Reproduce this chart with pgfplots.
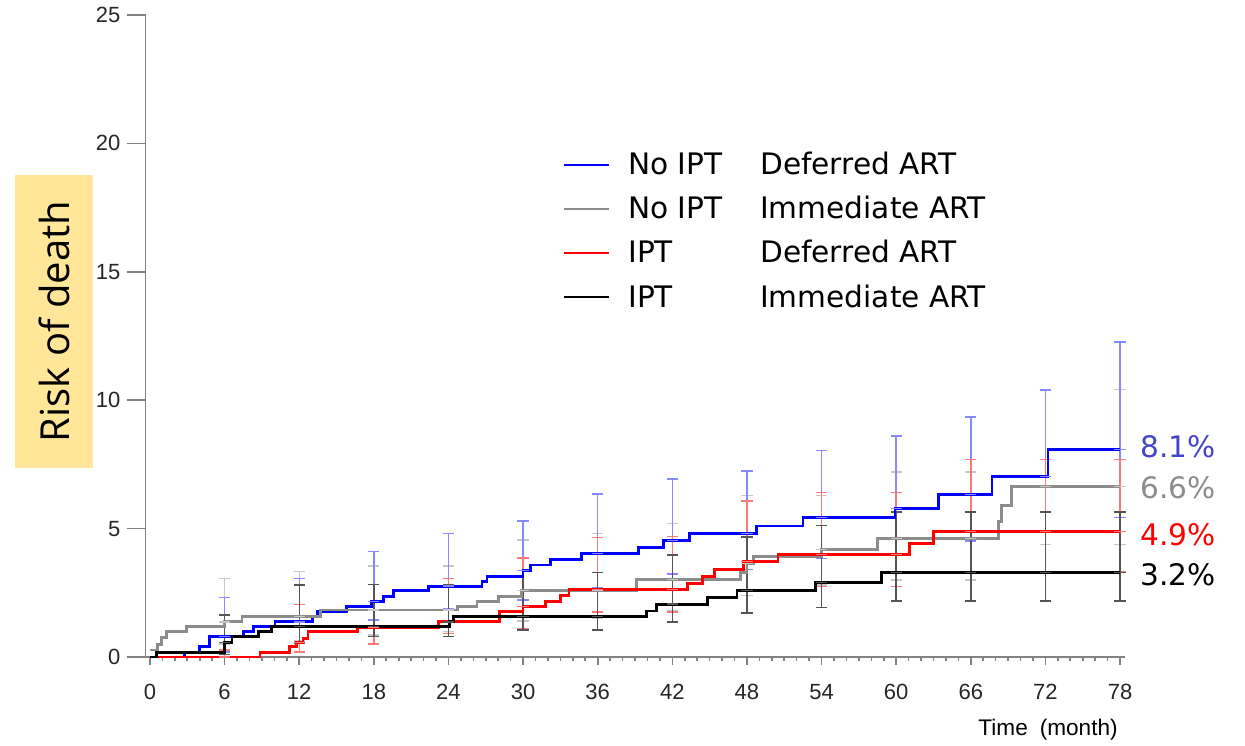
\documentclass[border=0pt]{standalone}
\usepackage{fontspec}
\usepackage{pgfplots}
\usepackage{pgfplotstable}
\pgfplotsset{compat=1.18}
\newfontfamily\arialf{Liberation Sans}
\newfontfamily\verdf{DejaVu Sans}
\newfontfamily\openf{Open Sans}
\definecolor{cblue}{RGB}{0,0,255}
\definecolor{cgray}{RGB}{140,140,140}
\definecolor{cred}{RGB}{255,0,0}
\definecolor{cblack}{RGB}{0,0,0}
\definecolor{eblue}{RGB}{135,135,255}
\definecolor{egray}{RGB}{200,200,200}
\definecolor{ered}{RGB}{255,120,120}
\definecolor{eblack}{RGB}{85,85,85}
\definecolor{axgray}{RGB}{130,130,130}
\definecolor{pblue}{RGB}{68,68,200}
\definecolor{ybox}{RGB}{255,230,153}

\pgfplotstableread{
x y up lo
6 0.79 2.31 0.20
12 1.37 3.06 0.60
18 2.15 4.10 1.44
24 2.76 4.81 1.89
30 3.38 5.30 2.22
36 4.03 6.34 2.70
42 4.53 6.93 3.23
48 4.81 7.25 3.41
54 5.43 8.05 3.84
60 5.78 8.60 4.00
66 6.33 9.35 4.51
72 7.02 10.40 4.90
78 8.08 12.27 5.43
}\errblue
\pgfplotstableread{
x y up lo
6 1.37 3.06 0.50
12 1.57 3.32 0.65
18 1.83 3.55 0.85
24 1.83 3.55 1.00
30 2.58 4.55 1.40
36 2.58 4.80 1.50
42 3.02 5.20 1.80
48 3.64 6.28 2.40
54 4.19 6.30 2.80
60 4.62 7.21 3.00
66 4.62 7.21 3.00
72 6.63 10.42 4.38
78 6.63 10.42 4.38
}\errgray
\pgfplotstableread{
x y up lo
6 0.00 0.27 0.00
12 0.56 2.05 0.20
18 1.15 2.83 0.50
24 1.37 3.06 0.92
30 1.96 3.86 1.10
36 2.63 4.66 1.76
42 2.63 4.70 1.76
48 3.71 6.07 2.60
54 4.00 6.41 2.74
60 4.00 6.41 2.74
66 4.88 7.70 3.32
72 4.88 7.70 3.32
78 4.88 7.70 3.32
}\errred
\pgfplotstableread{
x y up lo
6 0.56 1.63 0.10
12 1.18 2.80 0.55
18 1.18 2.83 0.79
24 1.37 2.80 0.79
30 1.57 3.38 1.05
36 1.57 3.28 1.05
42 2.06 3.97 1.37
48 2.58 4.68 1.72
54 2.89 5.11 1.92
60 3.28 5.65 2.18
66 3.28 5.65 2.18
72 3.28 5.65 2.18
78 3.28 5.65 2.18
}\errblack

\pgfplotsset{
  ebar/.style={only marks, forget plot, mark=-, mark size=2.8pt,
    mark options={draw=#1, line width=0.7pt},
    error bars/.cd, y dir=both, y explicit,
    error bar style={draw=#1, line width=0.7pt},
    error mark options={rotate=90, mark size=2.8pt, draw=#1, line width=0.7pt}},
  curve/.style={const plot, no marks, draw=#1, line width=1.4pt}
}

\begin{document}
\begin{tikzpicture}
\path[use as bounding box] (-72.75pt,-44pt) rectangle (549.75pt,328.5pt);
\begin{axis}[
  at={(0,0)}, anchor=south west,
  width=489.75pt, height=321pt, scale only axis,
  xmin=-0.36, xmax=78.4, ymin=0, ymax=25,
  axis lines=left,
  axis line style={-, draw=axgray, line width=0.8pt},
  xtick={0,6,...,78}, minor x tick num=5,
  ytick=\empty,
  extra y ticks={0,5,10,15,20,25},
  extra y tick style={major tick length=9pt},
  minor ytick={1,2,3,4,6,7,8,9,11,12,13,14,16,17,18,19,21,22,23,24},
  tick align=outside, major tick length=4pt, minor tick length=2pt,
  tick style={draw=axgray, line width=0.8pt},
  tick label style={font=\arialf\fontsize{11}{12}\selectfont, text=black!85},
  xticklabel style={yshift=-6pt},
  /pgf/number format/assume math mode=true,
  clip=false,
  legend cell align=left,
  legend image code/.code={\draw[#1, line width=1pt] (0pt,0pt) -- (22.5pt,0pt);},
  legend style={at={(axis cs:33.2,19.69)}, anchor=north west, draw=none, fill=none,
    inner sep=0pt, row sep=9.4pt, column sep=9pt,
    font=\verdf\fontsize{14.8}{17}\selectfont,
    nodes={inner sep=0pt}},
]
\addplot[ebar=egray] table[x=x, y=y, y error plus expr=\thisrow{up}-\thisrow{y}, y error minus expr=\thisrow{y}-\thisrow{lo}] {\errgray};
\addplot[ebar=eblue] table[x=x, y=y, y error plus expr=\thisrow{up}-\thisrow{y}, y error minus expr=\thisrow{y}-\thisrow{lo}] {\errblue};
\addplot[ebar=ered] table[x=x, y=y, y error plus expr=\thisrow{up}-\thisrow{y}, y error minus expr=\thisrow{y}-\thisrow{lo}] {\errred};
\addplot[ebar=eblack] table[x=x, y=y, y error plus expr=\thisrow{up}-\thisrow{y}, y error minus expr=\thisrow{y}-\thisrow{lo}] {\errblack};

\addplot[curve=cblue] coordinates {(0,0) (2.8,0.17) (4.0,0.4) (4.8,0.79) (7.5,0.98) (8.3,1.18) (10.05,1.37) (13.1,1.57) (13.5,1.76) (15.8,1.96) (17.8,2.15) (18.75,2.35) (19.6,2.58) (22.4,2.76) (26.7,2.93) (27.1,3.15) (30.0,3.38) (30.6,3.58) (32.2,3.80) (34.7,4.03) (39.3,4.25) (41.3,4.53) (43.4,4.81) (48.8,5.10) (52.5,5.43) (59.9,5.78) (63.4,6.33) (67.7,7.02) (72.2,8.08) (78,8.08)};
\addlegendentry{\makebox[66pt][l]{No IPT}Deferred ART}
\addplot[curve=cgray] coordinates {(0,0.27) (0.6,0.5) (0.9,0.75) (1.3,0.98) (2.95,1.18) (6.0,1.37) (7.4,1.57) (13.7,1.83) (24.7,1.96) (26.3,2.15) (28.0,2.35) (29.9,2.58) (39.1,3.02) (47.5,3.3) (48.0,3.64) (48.5,3.9) (54.0,4.19) (58.5,4.62) (68.2,5.27) (68.5,5.91) (69.3,6.63) (78,6.63)};
\addlegendentry{\makebox[66pt][l]{No IPT}Immediate ART}
\addplot[curve=cred] coordinates {(0.6,0) (8.85,0.17) (11.25,0.4) (11.8,0.56) (12.3,0.73) (12.7,0.98) (16.7,1.15) (23.2,1.37) (28.1,1.76) (30.0,1.96) (31.8,2.15) (33.0,2.41) (33.7,2.63) (43.2,2.87) (44.4,3.12) (45.4,3.41) (47.7,3.71) (50.5,4.0) (61.1,4.42) (63.0,4.88) (78,4.88)};
\addlegendentry{\makebox[66pt][l]{IPT}Deferred ART}
\addplot[curve=cblack] coordinates {(0,0) (0.5,0.17) (6.0,0.56) (6.6,0.79) (8.7,0.98) (9.8,1.18) (24.1,1.37) (24.4,1.57) (39.9,1.79) (40.7,2.06) (44.8,2.31) (47.2,2.58) (53.5,2.89) (58.8,3.28) (78,3.28)};
\addlegendentry{\makebox[66pt][l]{IPT}Immediate ART}

\node[anchor=west, inner sep=0pt, text=pblue, font=\verdf\fontsize{14.8}{17}\selectfont] at (axis cs:79.6,8.17) {8.1\%};
\node[anchor=west, inner sep=0pt, text=cgray, font=\verdf\fontsize{14.8}{17}\selectfont] at (axis cs:79.6,6.61) {6.6\%};
\node[anchor=west, inner sep=0pt, text=cred, font=\verdf\fontsize{14.8}{17}\selectfont] at (axis cs:79.6,4.75) {4.9\%};
\node[anchor=west, inner sep=0pt, text=black, font=\verdf\fontsize{14.8}{17}\selectfont] at (axis cs:79.6,3.19) {3.2\%};

\node[anchor=east, inner sep=0pt, font=\arialf\fontsize{11.3}{13}\selectfont] at (axis cs:77.84,-2.84) {Time\hspace{0.25em} (month)};

\node[fill=ybox, rotate=90, minimum width=146.5pt, minimum height=39pt, inner sep=0pt, font=\openf\fontsize{20}{24}\selectfont] at (axis cs:-7.72,13.07) {Risk of death};
\end{axis}
\end{tikzpicture}
\end{document}
